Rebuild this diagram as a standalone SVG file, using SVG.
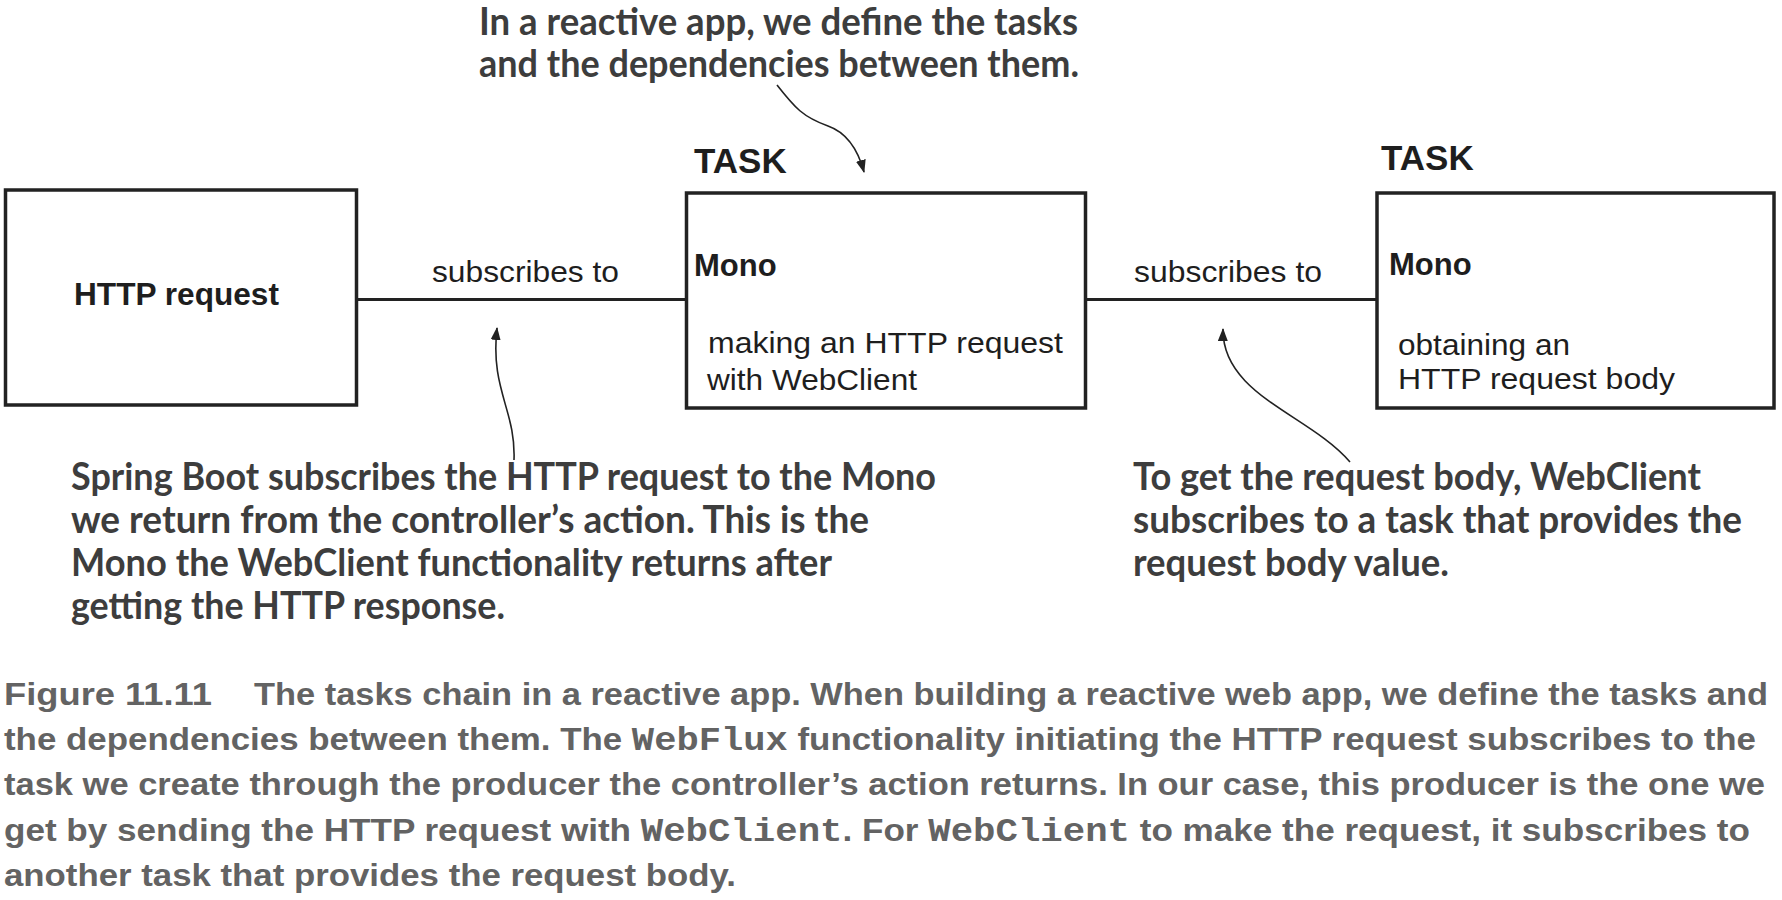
<svg xmlns="http://www.w3.org/2000/svg" width="1782" height="900" viewBox="0 0 1782 900">
  <defs>
    <style>
      .box { fill: #ffffff; stroke: #222222; stroke-width: 3.5; }
      .conn { stroke: #222222; stroke-width: 3; fill: none; }
      .head { fill: #222222; stroke: none; }
      .pointer { stroke: #222222; stroke-width: 1.6; fill: none; }
      .lbl { font-family: "Liberation Sans", Arial, sans-serif; fill: #1e1e1e; font-size: 30px; }
      .lblb { font-family: "Liberation Sans", Arial, sans-serif; fill: #1e1e1e; font-weight: bold; }
      .note { font-family: Lato, "Open Sans", sans-serif; font-weight: bold; font-size: 38px; fill: #3d3d3d; }
      .cap { font-family: "Liberation Sans", Arial, sans-serif; font-weight: bold; font-size: 31px; fill: #636363; }
      .code { font-family: "Liberation Mono", "Courier New", monospace; font-weight: bold; font-size: 33px; }
    </style>
    <marker id="ah" markerWidth="14" markerHeight="10" refX="12" refY="5" orient="auto" markerUnits="userSpaceOnUse">
      <path d="M0 0 L13 5 L0 10 Z" fill="#222222"/>
    </marker>
  </defs>
  <rect width="1782" height="900" fill="#ffffff"/>

  <g id="connectors">
    <line class="conn" x1="357" y1="299.5" x2="690" y2="299.5"/>
    <path class="head" d="M685 299.5 L720 285.5 Q710 299.5 720 313.5 Z"/>
    <text class="lbl" x="432" y="282" textLength="187" lengthAdjust="spacingAndGlyphs">subscribes to</text>
    <line class="conn" x1="1085" y1="299.5" x2="1382" y2="299.5"/>
    <path class="head" d="M1377 299.5 L1405 289 Q1397 299.5 1405 310.5 Z"/>
    <text class="lbl" x="1134" y="282" textLength="188" lengthAdjust="spacingAndGlyphs">subscribes to</text>
  </g>

  <g id="node-http-request">
    <rect class="box" x="5.5" y="190" width="351" height="215"/>
    <text class="lblb" x="74" y="305" font-size="31" textLength="205" lengthAdjust="spacingAndGlyphs">HTTP request</text>
  </g>

  <g id="node-task-webclient">
    <text class="lblb" x="694" y="173" font-size="35">TASK</text>
    <rect class="box" x="686.5" y="193" width="399" height="215"/>
    <text class="lblb" x="694" y="276" font-size="31">Mono</text>
    <text class="lbl" x="708" y="353" textLength="355" lengthAdjust="spacingAndGlyphs">making an HTTP request</text>
    <text class="lbl" x="707" y="390" textLength="210" lengthAdjust="spacingAndGlyphs">with WebClient</text>
  </g>

  <g id="node-task-body">
    <text class="lblb" x="1381" y="170" font-size="35">TASK</text>
    <rect class="box" x="1377" y="193" width="397" height="215"/>
    <text class="lblb" x="1389" y="275" font-size="31">Mono</text>
    <text class="lbl" x="1398" y="355" textLength="172" lengthAdjust="spacingAndGlyphs">obtaining an</text>
    <text class="lbl" x="1398" y="389" textLength="277" lengthAdjust="spacingAndGlyphs">HTTP request body</text>
  </g>

  <g id="annotations">
    <path class="pointer" d="M777 85 C795 108, 803 117, 828 126 C848 133, 858 150, 864 172" marker-end="url(#ah)"/>
    <path class="pointer" d="M514 460 C516 410, 490 390, 497 328" marker-end="url(#ah)"/>
    <path class="pointer" d="M1350 462 C1310 415, 1222 395, 1223 329" marker-end="url(#ah)"/>

    <text class="note" x="479" y="35" textLength="599" lengthAdjust="spacingAndGlyphs">In a reactive app, we define the tasks</text>
    <text class="note" x="479" y="77" textLength="600" lengthAdjust="spacingAndGlyphs">and the dependencies between them.</text>

    <text class="note" x="71" y="490" textLength="865" lengthAdjust="spacingAndGlyphs">Spring Boot subscribes the HTTP request to the Mono</text>
    <text class="note" x="71" y="533" textLength="798" lengthAdjust="spacingAndGlyphs">we return from the controller’s action. This is the</text>
    <text class="note" x="71" y="576" textLength="761" lengthAdjust="spacingAndGlyphs">Mono the WebClient functionality returns after</text>
    <text class="note" x="71" y="619" textLength="434" lengthAdjust="spacingAndGlyphs">getting the HTTP response.</text>

    <text class="note" x="1133" y="490" textLength="568" lengthAdjust="spacingAndGlyphs">To get the request body, WebClient</text>
    <text class="note" x="1133" y="533" textLength="609" lengthAdjust="spacingAndGlyphs">subscribes to a task that provides the</text>
    <text class="note" x="1133" y="576" textLength="316" lengthAdjust="spacingAndGlyphs">request body value.</text>
  </g>

  <g id="caption">
    <text class="cap" x="4" y="705" textLength="208" lengthAdjust="spacingAndGlyphs">Figure 11.11</text>
    <text class="cap" x="254" y="705" textLength="1514" lengthAdjust="spacingAndGlyphs">The tasks chain in a reactive app. When building a reactive web app, we define the tasks and</text>
    <text class="cap" x="4" y="750" textLength="1752" lengthAdjust="spacingAndGlyphs">the dependencies between them. The <tspan class="code">WebFlux</tspan> functionality initiating the HTTP request subscribes to the</text>
    <text class="cap" x="4" y="795" textLength="1761" lengthAdjust="spacingAndGlyphs">task we create through the producer the controller’s action returns. In our case, this producer is the one we</text>
    <text class="cap" x="4" y="841" textLength="1746" lengthAdjust="spacingAndGlyphs">get by sending the HTTP request with <tspan class="code">WebClient</tspan>. For <tspan class="code">WebClient</tspan> to make the request, it subscribes to</text>
    <text class="cap" x="4" y="886" textLength="732" lengthAdjust="spacingAndGlyphs">another task that provides the request body.</text>
  </g>
</svg>
